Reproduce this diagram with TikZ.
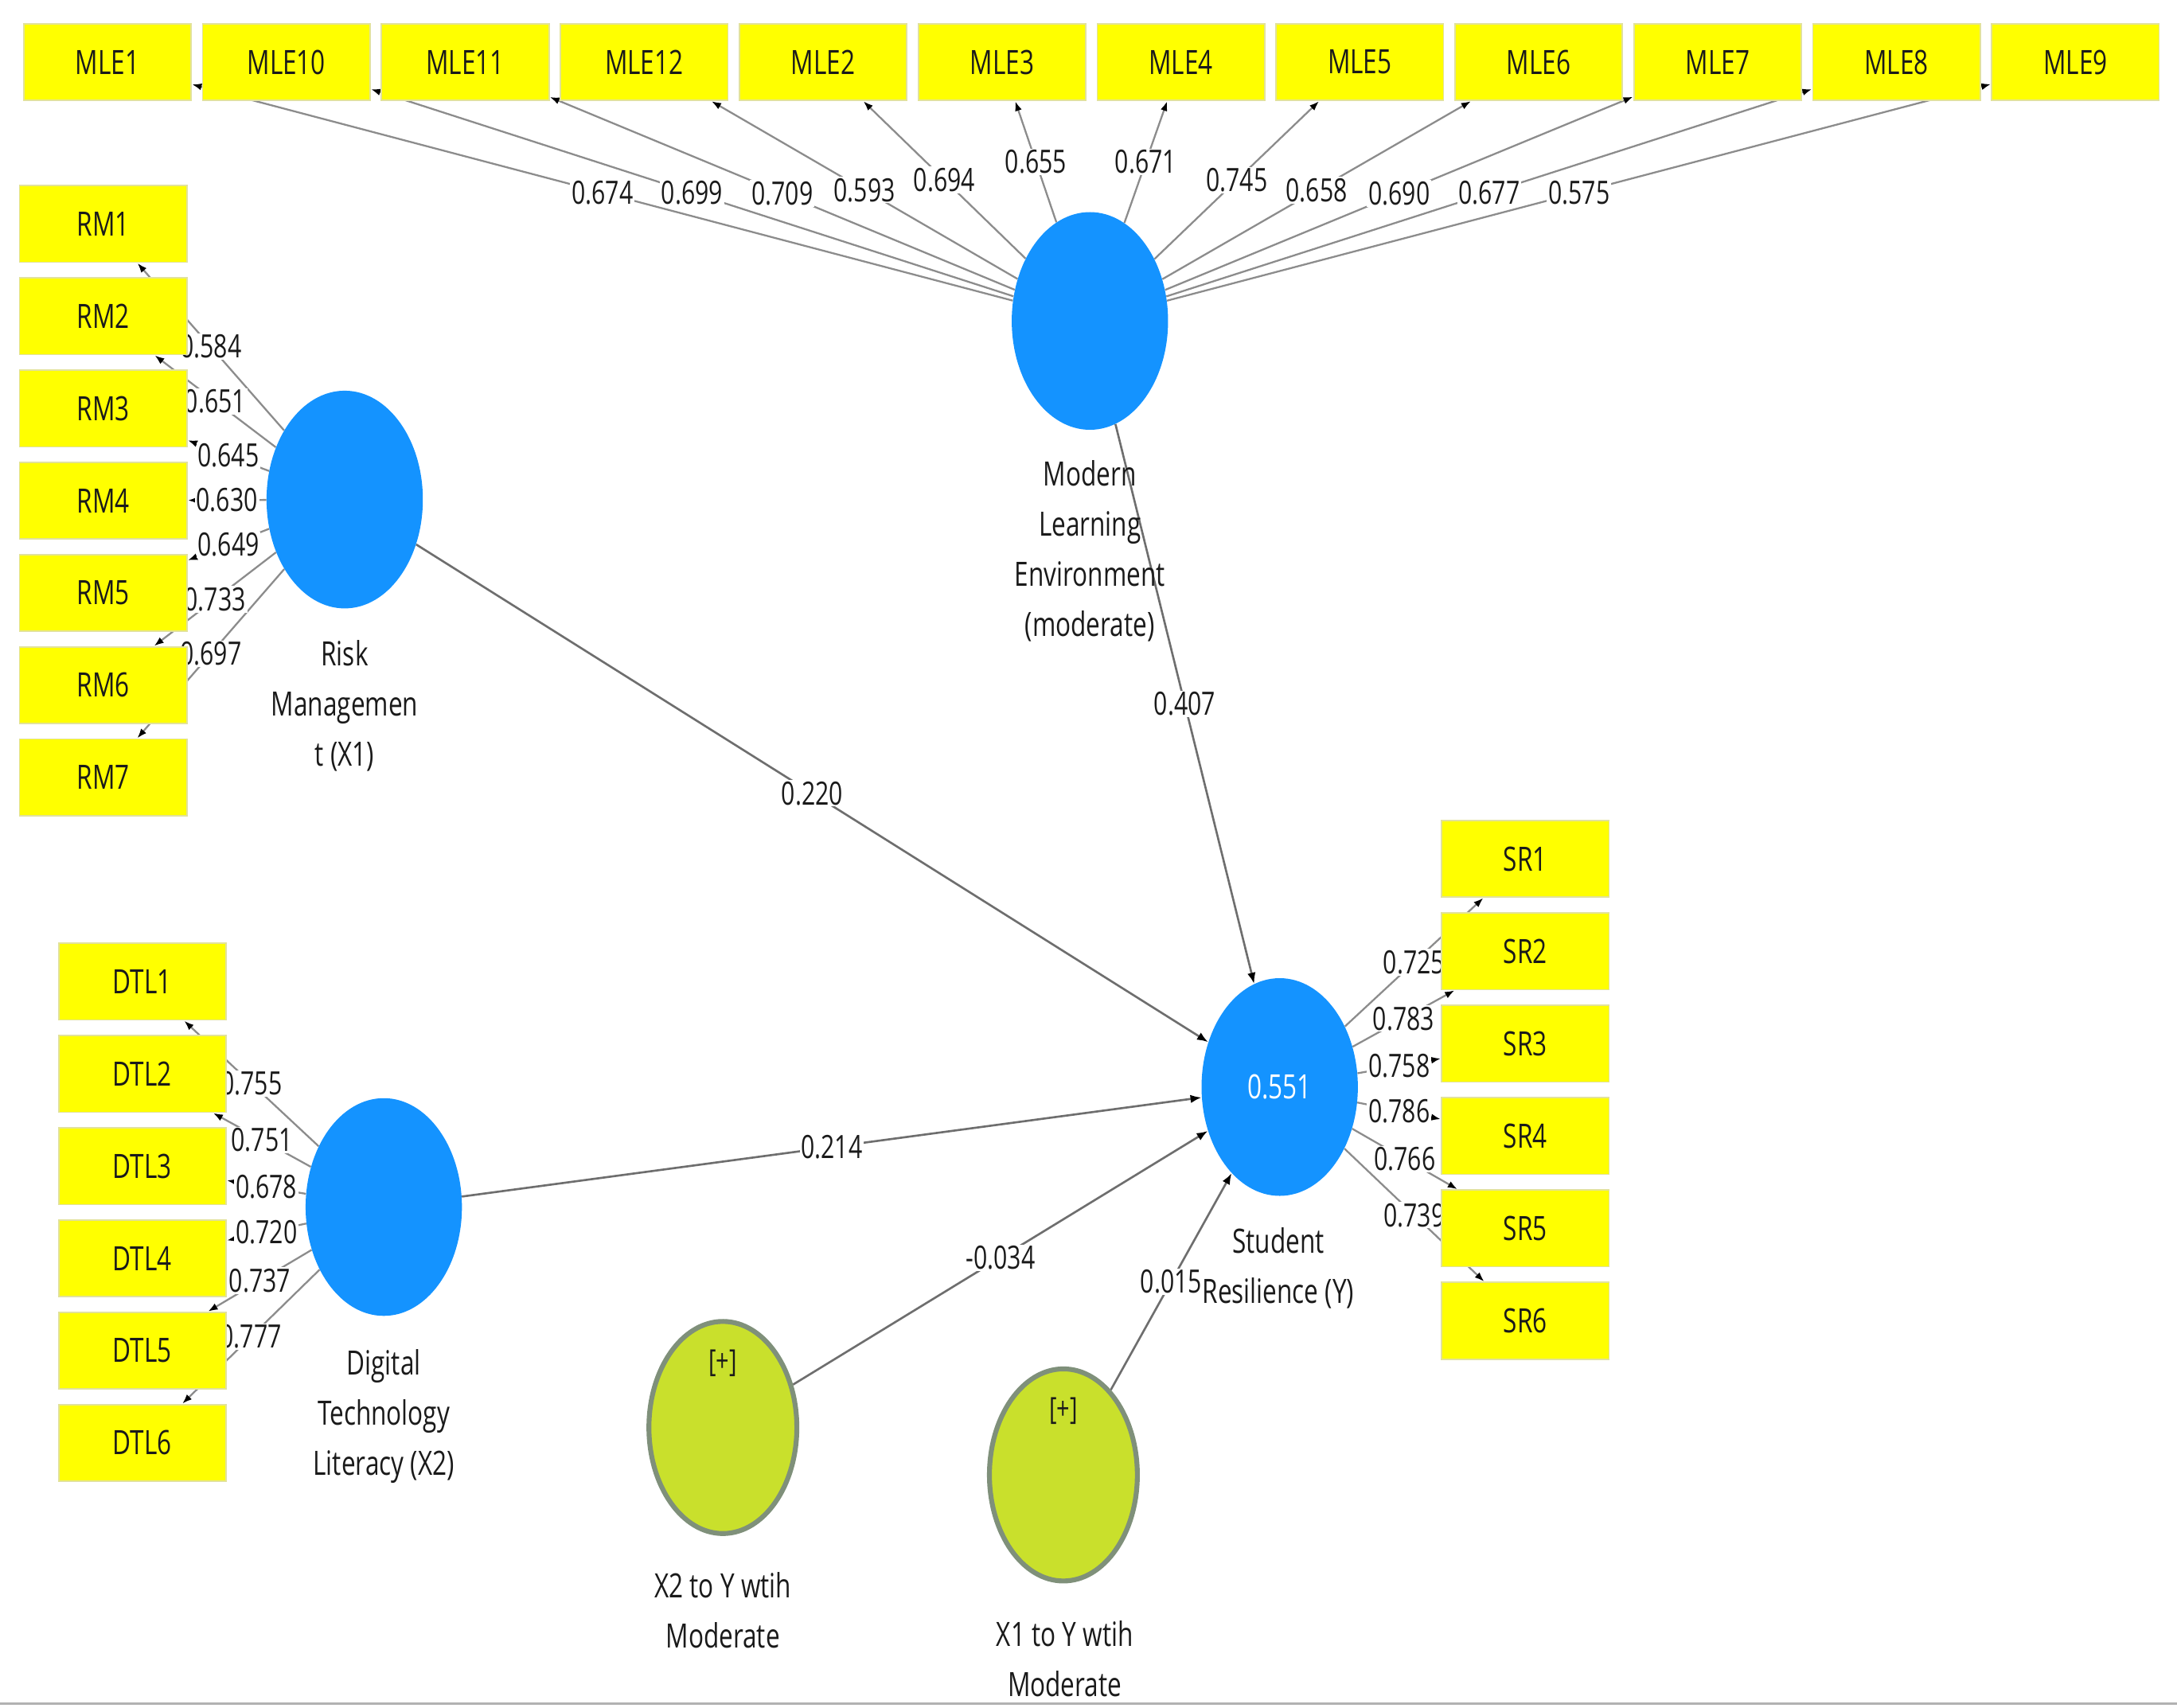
\documentclass[tikz,border=0pt]{standalone}
\usepackage{fontspec}
\setmainfont[FakeStretch=0.75]{Open Sans}
\usetikzlibrary{shapes.geometric,arrows.meta,backgrounds}
\definecolor{indf}{HTML}{FFFF00}
\definecolor{indb}{HTML}{E2E29A}
\definecolor{latf}{HTML}{1493FF}
\definecolor{modf}{HTML}{C9E02C}
\definecolor{modb}{HTML}{7F907A}
\definecolor{edgel}{HTML}{8C8C8C}
\definecolor{edges}{HTML}{6E6E6E}
\definecolor{txt}{HTML}{1A1A1A}
\tikzset{
  indbox/.style={rectangle, fill=indf, draw=indb, line width=1pt, minimum width=120pt, minimum height=55pt, inner sep=0pt, font=\fontsize{24}{28}\selectfont, text=txt},
  latent/.style={ellipse, fill=latf, minimum width=112pt, minimum height=156pt, inner sep=0pt},
  moder/.style={ellipse, fill=modf, draw=modb, line width=3.5pt, minimum width=106pt, minimum height=152pt, inner sep=0pt},
  captxt/.style={font=\fontsize{24}{36}\selectfont, align=center, text=txt, inner sep=0pt},
  val/.style={fill=white, inner sep=1pt, font=\fontsize{23}{26}\selectfont, text=txt},
  loadln/.style={draw=edgel, line width=1.3pt, -{Latex[length=7pt,width=5pt,black]}},
  pathln/.style={draw=edges, line width=1.5pt, -{Latex[length=8pt,width=6pt,black]}}
}
\begin{document}
\begin{tikzpicture}[x=1pt,y=-1pt]
\useasboundingbox (0,0) rectangle (1560,1224);
% indicator boxes
\foreach \n [count=\i from 0] in {1,10,11,12,2,3,4,5,6,7,8,9}
  \node[indbox] (MLE\n) at ({77+128.2*\i},44.5) {MLE\n};
\foreach \k in {1,...,7}
  \node[indbox] (RM\k) at (74,{160.5+66.1*(\k-1)}) {RM\k};
\foreach \k in {1,...,6}
  \node[indbox] (DTL\k) at (102,{703.5+66.1*(\k-1)}) {DTL\k};
\foreach \k in {1,...,6}
  \node[indbox] (SR\k) at (1093,{615.5+66.2*(\k-1)}) {SR\k};
% latent variables
\node[latent] (MLEc) at (781,230) {};
\node[latent] (RMc) at (247,358) {};
\node[latent] (DTLc) at (275,865) {};
\node[latent, font=\fontsize{24}{28}\selectfont, text=white] (Y) at (917,779) {0.551};
\node[moder] (M2) at (518,1023) {};
\node[moder] (M1) at (762,1057) {};
\node[font=\fontsize{22}{26}\selectfont, text=txt] (M2p) at (518,977) {[+]};
\node[font=\fontsize{22}{26}\selectfont, text=txt] (M1p) at (762,1011) {[+]};
% captions
\node[captxt] (capMLE) at (781,395) {Modern\\Learning\\Environment\\(moderate)};
\node[captxt] (capRM) at (247,506) {Risk\\Managemen\\t (X1)};
\node[captxt] (capDTL) at (275,1015) {Digital\\Technology\\Literacy (X2)};
\node[captxt] (capY) at (916,909) {Student\\Resilience (Y)};
\node[captxt] (capM2) at (518,1154) {X2 to Y wtih\\Moderate};
\node[captxt] (capM1) at (763,1189) {X1 to Y wtih\\Moderate};
\coordinate (bl) at (0,1221);
\coordinate (br) at (1560,1221);
\begin{pgfonlayer}{background}
\fill[white] (0,0) rectangle (1560,1224);
\draw[line width=2pt, draw=black!30] (bl) -- (br);
% lines
\foreach \t in {1,10,11,12,2,3,4,5,6,7,8,9} \draw[loadln] (MLEc) -- (MLE\t);
\foreach \t in {1,...,7} \draw[loadln] (RMc) -- (RM\t);
\foreach \t in {1,...,6} \draw[loadln] (DTLc) -- (DTL\t);
\foreach \t in {1,...,6} \draw[loadln] (Y) -- (SR\t);
\foreach \s in {RMc,MLEc,DTLc,M2,M1} \draw[pathln] (\s) -- (Y);
% values
\foreach \t/\v in {1/0.674,10/0.699,11/0.709,12/0.593,2/0.694,3/0.655,4/0.671,5/0.745,6/0.658,7/0.690,8/0.677,9/0.575}
  \path (MLEc) -- node[val] {\v} (MLE\t);
\foreach \t/\v in {1/0.584,2/0.651,3/0.645,4/0.630,5/0.649,6/0.733,7/0.697}
  \path (RMc) -- node[val] {\v} (RM\t);
\foreach \t/\v in {1/0.755,2/0.751,3/0.678,4/0.720,5/0.737,6/0.777}
  \path (DTLc) -- node[val] {\v} (DTL\t);
\foreach \t/\v in {1/0.725,2/0.783,3/0.758,4/0.786,5/0.766,6/0.739}
  \path (Y) -- node[val] {\v} (SR\t);
\foreach \s/\v in {RMc/0.220,MLEc/0.407,DTLc/0.214,M2/-0.034,M1/0.015}
  \path (\s) -- node[val] {\v} (Y);
\end{pgfonlayer}
\end{tikzpicture}
\end{document}
